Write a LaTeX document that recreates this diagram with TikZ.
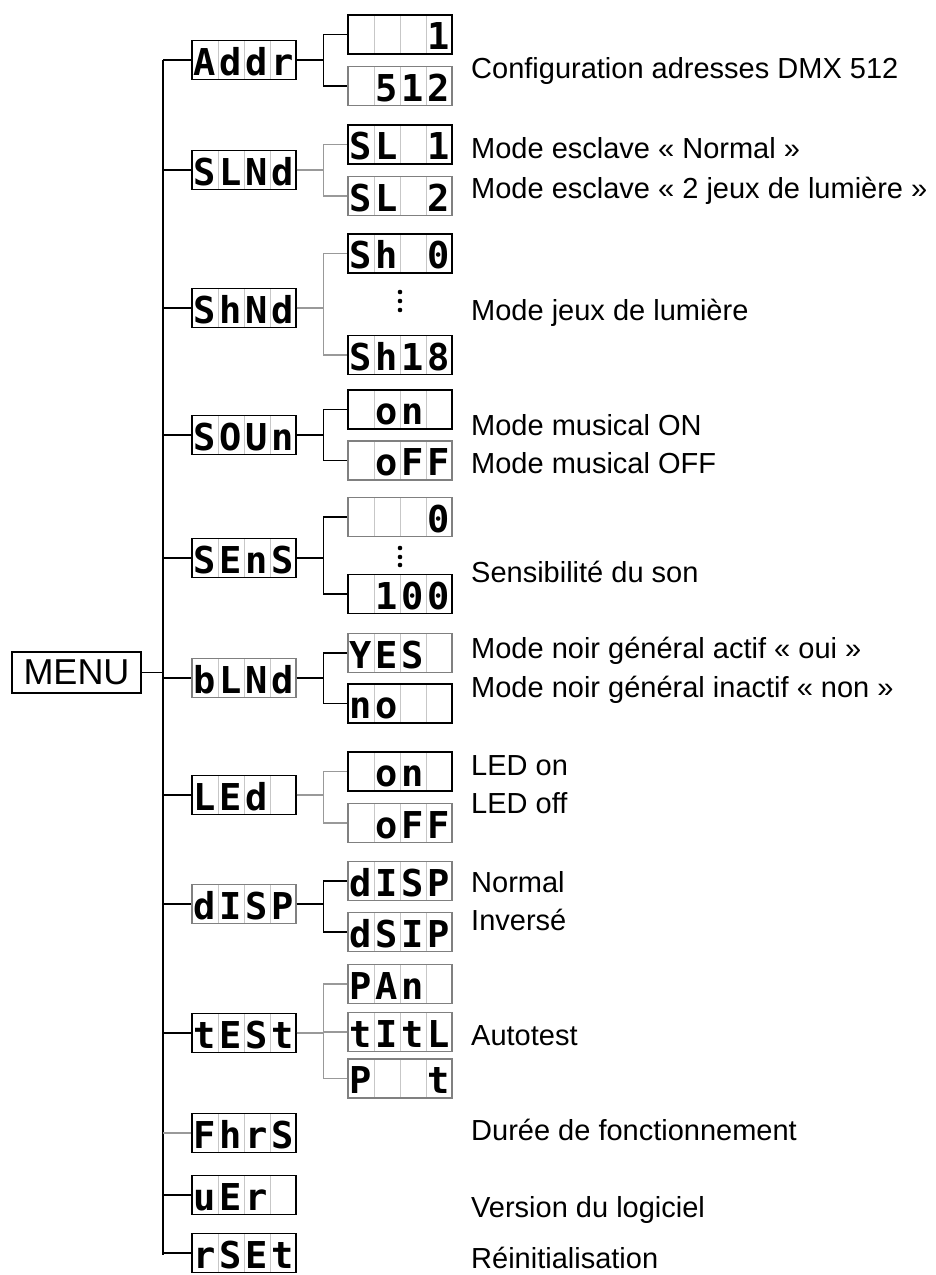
\documentclass[tikz,border=0pt]{standalone}
\usepackage{fontspec}
\setmainfont{Liberation Sans}
\newfontfamily\segfont{DejaVu Sans Mono}
\usetikzlibrary{positioning,calc}
\definecolor{linegrey}{gray}{0.6}
\definecolor{boxgrey}{gray}{0.5}
\definecolor{cellgrey}{gray}{0.78}
\tikzset{
  lcdbox/.style ={minimum width=104pt, minimum height=39pt, inner sep=0pt, line width=1.3pt},
  lcdchar/.style={anchor=base, inner sep=0pt, font=\segfont\bfseries\fontsize{37}{37}\selectfont},
  celldiv/.style={draw=cellgrey, line width=0.8pt},
  link/.style   ={line width=1.3pt, draw=black},
  glink/.style  ={link, draw=linegrey},
  menubox/.style={draw, line width=1.3pt, minimum width=129pt, minimum height=41pt,
                  inner sep=0pt, font=\fontsize{36}{36}\selectfont},
  note/.style   ={anchor=base west, inner sep=0pt, font=\fontsize{29}{34}\selectfont},
}
% four-digit display: name, centre, border colour, characters
\newcommand{\lcd}[4]{%
  \foreach \k in {1,2,3}
    \draw[celldiv] ($(#2)+(-52+\k*26,-19.5)$) -- ++(0,39);
  \node[lcdbox,draw=#3] (#1) at (#2) {};
  \foreach \ch [count=\k] in {#4}
    \node[lcdchar] at ($(#1.south west)+(\k*26-13,-5)$) {\ch};
}

\begin{document}
\begin{tikzpicture}[x=1pt,y=-1pt]
  \useasboundingbox (0,0) rectangle (935,1275);
  % menu and trunk
  \node[menubox] (menu) at (76.5,672.5) {MENU};
  \coordinate (ttop) at (163,60);
  \coordinate (tbot) at (163,1255);
  \draw[link] (ttop) -- (tbot);
  \draw[link] (menu.east) -- (menu.east -| ttop);

  % first level
  \lcd{addr}{244,60}{black}{A,d,d,r}
  \lcd{slnd}{244,170}{black}{S,L,N,d}
  \lcd{shnd}{244,308}{black}{S,h,N,d}
  \lcd{soun}{244,435}{black}{S,O,U,n}
  \lcd{sens}{244,558}{black}{S,E,n,S}
  \lcd{blnd}{244,678}{boxgrey}{b,L,N,d}
  \lcd{led}{244,795}{black}{L,E,d,{}}
  \lcd{disp}{244,904}{boxgrey}{d,I,S,P}
  \lcd{test}{244,1033}{black}{t,E,S,t}
  \lcd{fhrs}{244,1133}{black}{F,h,r,S}
  \lcd{uer}{244,1195}{black}{u,E,r,{}}
  \lcd{rset}{244,1253}{black}{r,S,E,t}

  % second level
  \lcd{addrA}{400,34.5}{black}{{},{},{},1}
  \lcd{addrB}{400,86}{boxgrey}{{},5,1,2}
  \lcd{slndA}{400,144.5}{black}{S,L,{},1}
  \lcd{slndB}{400,196}{boxgrey}{S,L,{},2}
  \lcd{shndA}{400,253.5}{black}{S,h,{},0}
  \lcd{shndB}{400,355}{black}{S,h,1,8}
  \lcd{sounA}{400,409.5}{black}{{},o,n,{}}
  \lcd{sounB}{400,460.5}{boxgrey}{{},o,F,F}
  \lcd{sensA}{400,517}{boxgrey}{{},{},{},0}
  \lcd{sensB}{400,594}{black}{{},1,0,0}
  \lcd{blndA}{400,653}{boxgrey}{Y,E,S,{}}
  \lcd{blndB}{400,703.5}{black}{n,o,{},{}}
  \lcd{ledA}{400,771.5}{black}{{},o,n,{}}
  \lcd{ledB}{400,823}{boxgrey}{{},o,F,F}
  \lcd{dispA}{400,881}{boxgrey}{d,I,S,P}
  \lcd{dispB}{400,932}{boxgrey}{d,S,I,P}
  \lcd{testA}{400,984}{boxgrey}{P,A,n,{}}
  \lcd{testB}{400,1032}{boxgrey}{t,I,t,L}
  \lcd{testC}{400,1078.5}{boxgrey}{P,{},{},t}

  \foreach \yy in {292,301,310,548,557,565}
    \fill (400,\yy) circle (2.3pt);

  % links
  \foreach \n in {addr,slnd,shnd,soun,sens,blnd,led,disp,test,uer,rset}
    \draw[link] (ttop |- \n.west) -- (\n.west);
  \draw[glink] (ttop |- fhrs.west) -- (fhrs.west);
  \foreach \p/\c/\col in {addr/addrA/black, addr/addrB/black,
      slnd/slndA/linegrey, slnd/slndB/linegrey, shnd/shndA/linegrey, shnd/shndB/linegrey,
      soun/sounA/black, soun/sounB/black, sens/sensA/black, sens/sensB/black,
      blnd/blndA/black, blnd/blndB/black, led/ledA/linegrey, led/ledB/linegrey,
      disp/dispA/black, disp/dispB/black,
      test/testA/linegrey, test/testB/linegrey, test/testC/linegrey}
    \draw[link,draw=\col] (\p.east) -- ++(27,0) |- (\c.west);

  % descriptions
  \node[note] (naddr) at (471,78)   {Configuration adresses DMX 512};
  \node[note] (nsl1)  at (471,158)  {Mode esclave « Normal »};
  \node[note] (nsl2)  at (471,198)  {Mode esclave « 2 jeux de lumière »};
  \node[note] (nshow) at (471,320)  {Mode jeux de lumière};
  \node[note] (nson)  at (471,435)  {Mode musical ON};
  \node[note] (nsoff) at (471,473)  {Mode musical OFF};
  \node[note] (nsens) at (471,582)  {Sensibilité du son};
  \node[note] (nbyes) at (471,658)  {Mode noir général actif « oui »};
  \node[note] (nbno)  at (471,697)  {Mode noir général inactif « non »};
  \node[note] (nlon)  at (471,775)  {LED on};
  \node[note] (nloff) at (471,813)  {LED off};
  \node[note] (ndisp) at (471,892)  {Normal};
  \node[note] (ninv)  at (471,930)  {Inversé};
  \node[note] (ntest) at (471,1045) {Autotest};
  \node[note] (nhrs)  at (471,1140) {Durée de fonctionnement};
  \node[note] (nver)  at (471,1217) {Version du logiciel};
  \node[note] (nrst)  at (471,1268) {Réinitialisation};
\end{tikzpicture}
\end{document}
